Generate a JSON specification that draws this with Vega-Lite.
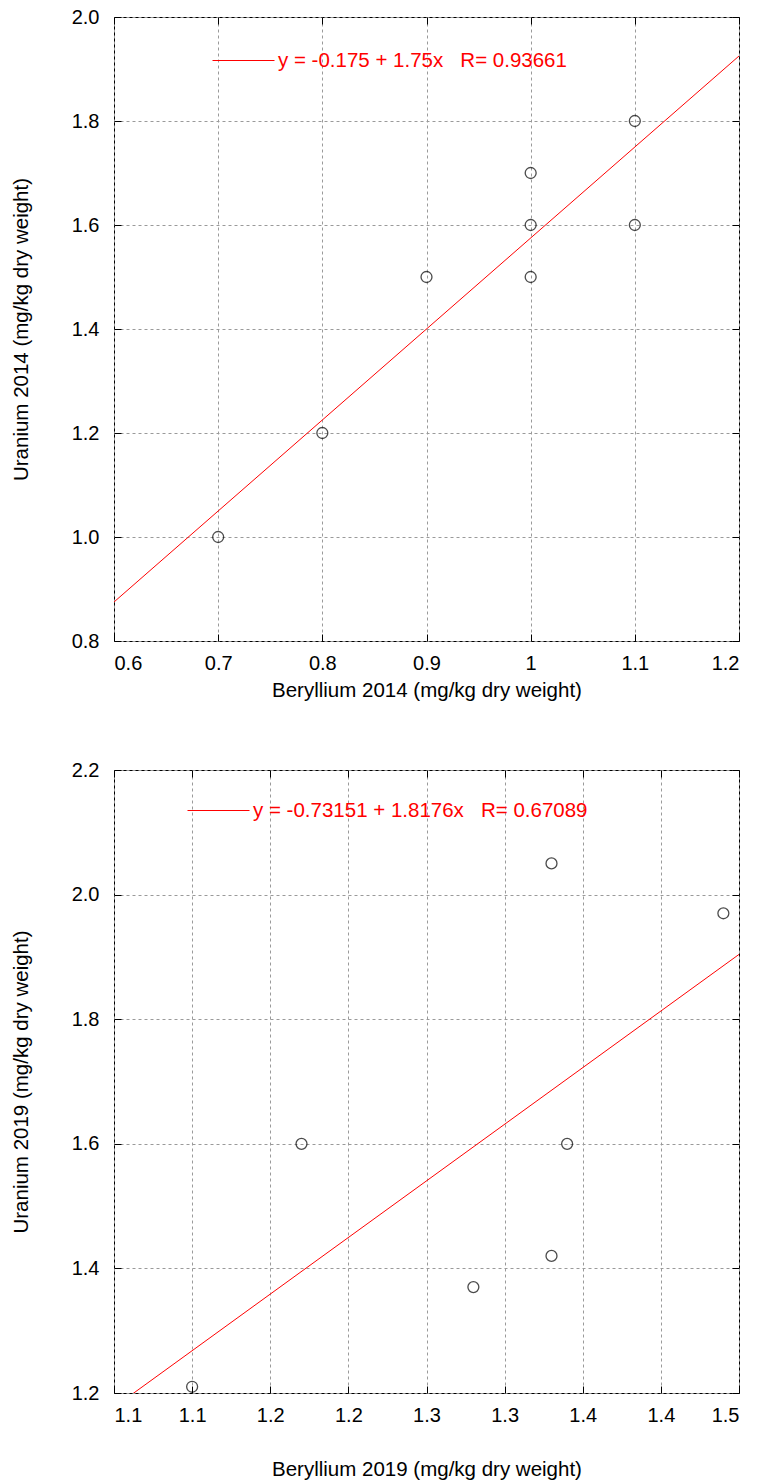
{
  "$schema": "https://vega.github.io/schema/vega-lite/v6.json",
  "padding": {"left": 10, "top": 6, "right": 10, "bottom": 0},
  "background": "white",
  "config": {
    "font": "Liberation Sans",
    "view": {"stroke": "black", "strokeWidth": 1},
    "axis": {
      "labelFont": "Liberation Sans", "titleFont": "Liberation Sans",
      "labelFontSize": 20, "titleFontSize": 20.5, "titleFontWeight": "normal",
      "labelColor": "black", "titleColor": "black",
      "gridColor": "#9a9a9a", "gridDash": [3, 3], "gridWidth": 1,
      "domain": false, "tickColor": "black", "tickSize": -7,
      "labelPadding": 19
    },
    "legend": {"padding": 0}
  },
  "spacing": 58,
  "resolve": {"scale": {"color": "independent"}, "legend": {"color": "independent"}},
  "vconcat": [
    {
      "width": 625, "height": 624,
      "resolve": {"axis": {"x": "independent", "y": "independent"}},
      "layer": [
        {
          "data": {"values": [
            {"be": 0.7, "u": 1.0}, {"be": 0.8, "u": 1.2}, {"be": 0.9, "u": 1.5},
            {"be": 1.0, "u": 1.5}, {"be": 1.0, "u": 1.6}, {"be": 1.0, "u": 1.7},
            {"be": 1.1, "u": 1.6}, {"be": 1.1, "u": 1.8}
          ]},
          "mark": {"type": "point", "shape": "circle", "filled": false, "color": "black", "size": 120, "strokeWidth": 1.3},
          "encoding": {
            "x": {"field": "be", "type": "quantitative", "scale": {"domain": [0.6, 1.2], "nice": false, "zero": false},
              "axis": {"title": "Beryllium 2014 (mg/kg dry weight)", "values": [0.6, 0.7, 0.8, 0.9, 1.0, 1.1, 1.2], "format": "~g", "titlePadding": 7}},
            "y": {"field": "u", "type": "quantitative", "scale": {"domain": [0.8, 2.0], "nice": false, "zero": false},
              "axis": {"title": "Uranium 2014 (mg/kg dry weight)", "values": [0.8, 1.0, 1.2, 1.4, 1.6, 1.8, 2.0], "format": ".1f", "labelPadding": 22, "titlePadding": 40}}
          }
        },
        {
          "data": {"values": [
            {"be": 0.6, "u": 0.875, "label": "y = -0.175 + 1.75x\u00a0\u00a0\u00a0R= 0.93661"},
            {"be": 1.2, "u": 1.925, "label": "y = -0.175 + 1.75x\u00a0\u00a0\u00a0R= 0.93661"}
          ]},
          "mark": {"type": "line", "strokeWidth": 1, "clip": true},
          "encoding": {
            "x": {"field": "be", "type": "quantitative",
              "axis": {"orient": "top", "title": null, "labels": false, "grid": false, "values": [0.6, 0.7, 0.8, 0.9, 1.0, 1.1, 1.2]}},
            "y": {"field": "u", "type": "quantitative",
              "axis": {"orient": "right", "title": null, "labels": false, "grid": false, "values": [0.8, 1.0, 1.2, 1.4, 1.6, 1.8, 2.0]}},
            "color": {"field": "label", "type": "nominal", "scale": {"range": ["#ff0000"]},
              "legend": {"orient": "none", "legendX": 98, "legendY": 12, "title": null, "symbolType": "stroke", "symbolSize": 3844, "symbolStrokeWidth": 1, "labelFontSize": 20.5, "labelColor": "#ff0000", "labelLimit": 0, "labelOffset": 3}}
          }
        }
      ]
    },
    {
      "width": 625, "height": 623,
      "resolve": {"axis": {"x": "independent", "y": "independent"}},
      "layer": [
        {
          "data": {"values": [
            {"be": 1.10, "u": 1.21}, {"be": 1.17, "u": 1.6}, {"be": 1.28, "u": 1.37},
            {"be": 1.33, "u": 2.05}, {"be": 1.33, "u": 1.42}, {"be": 1.34, "u": 1.6},
            {"be": 1.44, "u": 1.97}
          ]},
          "mark": {"type": "point", "shape": "circle", "filled": false, "color": "black", "size": 120, "strokeWidth": 1.3},
          "encoding": {
            "x": {"field": "be", "type": "quantitative", "scale": {"domain": [1.05, 1.45], "nice": false, "zero": false},
              "axis": {"title": "Beryllium 2019 (mg/kg dry weight)", "values": [1.05, 1.1, 1.15, 1.2, 1.25, 1.3, 1.35, 1.4, 1.45], "labelExpr": "format(floor(datum.value*10+0.5001)/10, '.1f')", "titlePadding": 34}},
            "y": {"field": "u", "type": "quantitative", "scale": {"domain": [1.2, 2.2], "nice": false, "zero": false},
              "axis": {"title": "Uranium 2019 (mg/kg dry weight)", "values": [1.2, 1.4, 1.6, 1.8, 2.0, 2.2], "format": ".1f", "labelPadding": 22, "titlePadding": 40}}
          }
        },
        {
          "data": {"values": [
            {"be": 1.05, "u": 1.177, "label": "y = -0.73151 + 1.8176x\u00a0\u00a0\u00a0R= 0.67089"},
            {"be": 1.45, "u": 1.904, "label": "y = -0.73151 + 1.8176x\u00a0\u00a0\u00a0R= 0.67089"}
          ]},
          "mark": {"type": "line", "strokeWidth": 1, "clip": true},
          "encoding": {
            "x": {"field": "be", "type": "quantitative",
              "axis": {"orient": "top", "title": null, "labels": false, "grid": false, "values": [1.05, 1.1, 1.15, 1.2, 1.25, 1.3, 1.35, 1.4, 1.45]}},
            "y": {"field": "u", "type": "quantitative",
              "axis": {"orient": "right", "title": null, "labels": false, "grid": false, "values": [1.2, 1.4, 1.6, 1.8, 2.0, 2.2]}},
            "color": {"field": "label", "type": "nominal", "scale": {"range": ["#ff0000"]},
              "legend": {"orient": "none", "legendX": 73, "legendY": 9, "title": null, "symbolType": "stroke", "symbolSize": 3844, "symbolStrokeWidth": 1, "labelFontSize": 20.5, "labelColor": "#ff0000", "labelLimit": 0, "labelOffset": 3}}
          }
        }
      ]
    }
  ]
}
